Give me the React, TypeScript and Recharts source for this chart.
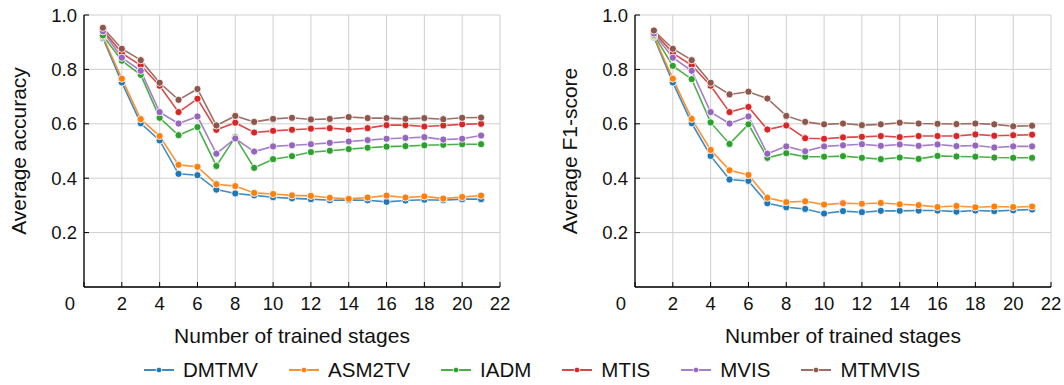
import React from 'react';
import { LineChart, Line, XAxis, YAxis, CartesianGrid } from 'recharts';

// Training stages on the x axis
const STAGES = [1, 2, 3, 4, 5, 6, 7, 8, 9, 10, 11, 12, 13, 14, 15, 16, 17, 18, 19, 20, 21];

const X_TICKS = [0, 2, 4, 6, 8, 10, 12, 14, 16, 18, 20, 22];
const Y_TICKS = [0.2, 0.4, 0.6, 0.8, 1.0];

const SERIES = ['DMTMV', 'ASM2TV', 'IADM', 'MTIS', 'MVIS', 'MTMVIS'];
const COLORS = ['#1f77b4', '#ff7f0e', '#2ca02c', '#d62728', '#9467bd', '#8c564b'];

// Average accuracy
const ACC_DMTMV = [0.915, 0.752, 0.602, 0.539, 0.416, 0.411, 0.358, 0.344, 0.337, 0.33, 0.326, 0.323, 0.319, 0.32, 0.319, 0.313, 0.318, 0.321, 0.319, 0.323, 0.323];
const ACC_ASM2TV = [0.92, 0.766, 0.617, 0.555, 0.449, 0.442, 0.378, 0.371, 0.346, 0.342, 0.337, 0.335, 0.328, 0.324, 0.329, 0.336, 0.329, 0.333, 0.325, 0.331, 0.336];
const ACC_IADM = [0.925, 0.832, 0.78, 0.622, 0.558, 0.588, 0.445, 0.551, 0.438, 0.47, 0.481, 0.496, 0.501, 0.507, 0.512, 0.516, 0.518, 0.521, 0.523, 0.525, 0.525];
const ACC_MTIS = [0.945, 0.86, 0.815, 0.74, 0.643, 0.692, 0.578, 0.604, 0.568, 0.574, 0.578, 0.582, 0.584, 0.579, 0.584, 0.595, 0.595, 0.59, 0.594, 0.598, 0.6];
const ACC_MVIS = [0.94, 0.843, 0.795, 0.643, 0.601, 0.627, 0.49, 0.546, 0.498, 0.517, 0.521, 0.525, 0.53, 0.535, 0.54, 0.545, 0.548, 0.551, 0.542, 0.545, 0.557];
const ACC_MTMVIS = [0.953, 0.876, 0.834, 0.751, 0.688, 0.728, 0.594, 0.629, 0.607, 0.618, 0.622, 0.616, 0.618, 0.625, 0.621, 0.621, 0.618, 0.621, 0.617, 0.622, 0.623];

// Average F1-score
const F1_DMTMV = [0.918, 0.752, 0.602, 0.482, 0.395, 0.39, 0.308, 0.293, 0.287, 0.27, 0.279, 0.275, 0.28, 0.28, 0.281, 0.281, 0.277, 0.281, 0.279, 0.282, 0.285];
const F1_ASM2TV = [0.922, 0.766, 0.618, 0.504, 0.429, 0.412, 0.328, 0.312, 0.315, 0.303, 0.308, 0.306, 0.309, 0.304, 0.301, 0.294, 0.298, 0.293, 0.296, 0.294, 0.296];
const F1_IADM = [0.927, 0.813, 0.764, 0.605, 0.526, 0.598, 0.475, 0.492, 0.479, 0.479, 0.481, 0.475, 0.47, 0.476, 0.471, 0.482, 0.48, 0.479, 0.476, 0.475, 0.475];
const F1_MTIS = [0.938, 0.86, 0.815, 0.74, 0.643, 0.662, 0.579, 0.594, 0.547, 0.545, 0.55, 0.552, 0.555, 0.551, 0.555, 0.555, 0.555, 0.561, 0.556, 0.558, 0.56];
const F1_MVIS = [0.932, 0.843, 0.795, 0.643, 0.601, 0.627, 0.49, 0.517, 0.499, 0.517, 0.521, 0.525, 0.519, 0.524, 0.519, 0.524, 0.518, 0.52, 0.513, 0.517, 0.517];
const F1_MTMVIS = [0.943, 0.876, 0.834, 0.751, 0.708, 0.718, 0.693, 0.629, 0.607, 0.598, 0.601, 0.595, 0.598, 0.604, 0.601, 0.6, 0.599, 0.601, 0.598, 0.591, 0.593];

const ACC_VALUES = [ACC_DMTMV, ACC_ASM2TV, ACC_IADM, ACC_MTIS, ACC_MVIS, ACC_MTMVIS];
const F1_VALUES = [F1_DMTMV, F1_ASM2TV, F1_IADM, F1_MTIS, F1_MVIS, F1_MTMVIS];

const FONT = '"Liberation Sans", Arial, sans-serif';

function buildRows(values: number[][]) {
  return STAGES.map((stage, i) => {
    const row: Record<string, number> = { stage };
    SERIES.forEach((name, s) => {
      row[name] = values[s][i];
    });
    return row;
  });
}

// tick marks point into the plot, like the matplotlib original
const XTick = (props: any) => {
  const { x, y, payload } = props;
  const shift = payload.value === 0 ? -14 : 0;
  return (
    <g>
      <line x1={x} y1={y} x2={x} y2={y - 5} stroke="#000" strokeWidth={1} />
      <text x={x + shift} y={y + 10} dy="0.71em" textAnchor="middle" fontSize={18.5} fontFamily={FONT} fill="#111">
        {payload.value}
      </text>
    </g>
  );
};

const YTick = (props: any) => {
  const { x, y, payload } = props;
  return (
    <g>
      <line x1={x} y1={y} x2={x + 5} y2={y} stroke="#000" strokeWidth={1} />
      <text x={x - 7} y={y} dy="0.355em" textAnchor="end" fontSize={18.5} fontFamily={FONT} fill="#111">
        {Number(payload.value).toFixed(1)}
      </text>
    </g>
  );
};

interface PanelProps {
  values: number[][];
  yLabel: string;
  left: number;
  width: number;
  marginRight: number;
}

function Panel({ values, yLabel, left, width, marginRight }: PanelProps) {
  const rows = buildRows(values);
  return (
    <div style={{ position: 'absolute', left, top: 0 }}>
      <LineChart width={width} height={385} data={rows} margin={{ top: 15, right: marginRight, left: 0, bottom: 65 }}>
        <CartesianGrid stroke="#cfcfcf" strokeWidth={1} />
        <XAxis
          dataKey="stage"
          type="number"
          domain={[0, 22]}
          ticks={X_TICKS}
          interval={0}
          height={33}
          tickSize={0}
          tickMargin={0}
          tick={XTick}
          axisLine={{ stroke: '#000', strokeWidth: 1.3 }}
          label={{
            content: (p: any) => {
              const vb = p.viewBox;
              return (
                <text x={vb.x + vb.width / 2} y={vb.y + 56} textAnchor="middle" fontSize={21} fontFamily={FONT} fill="#111">
                  Number of trained stages
                </text>
              );
            },
          }}
        />
        <XAxis xAxisId="top" orientation="top" type="number" domain={[0, 22]} height={0} tick={false} tickLine={false} axisLine={{ stroke: '#000', strokeWidth: 1.3 }} />
        <YAxis
          type="number"
          domain={[0, 1]}
          ticks={Y_TICKS}
          interval={0}
          width={84}
          tickSize={0}
          tickMargin={0}
          tick={YTick}
          axisLine={{ stroke: '#000', strokeWidth: 1.3 }}
          label={{
            content: (p: any) => {
              const vb = p.viewBox;
              const cx = vb.x + 18;
              const cy = vb.y + vb.height / 2;
              return (
                <text x={cx} y={cy} transform={`rotate(-90 ${cx} ${cy})`} textAnchor="middle" dominantBaseline="central" fontSize={21} fontFamily={FONT} fill="#111">
                  {yLabel}
                </text>
              );
            },
          }}
        />
        <YAxis yAxisId="right" orientation="right" type="number" domain={[0, 1]} width={0} tick={false} tickLine={false} axisLine={{ stroke: '#000', strokeWidth: 1.3 }} />
        {SERIES.map((name, s) => (
          <Line
            key={name}
            type="linear"
            dataKey={name}
            stroke={COLORS[s]}
            strokeOpacity={0.85}
            strokeWidth={1.6}
            dot={{ r: 3.6, fill: COLORS[s], stroke: '#fff', strokeWidth: 1 }}
            activeDot={false}
            isAnimationActive={false}
          />
        ))}
      </LineChart>
    </div>
  );
}

function LegendRow() {
  return (
    <div
      style={{
        position: 'absolute',
        left: 0,
        top: 358,
        width: 1064,
        height: 24,
        display: 'flex',
        justifyContent: 'center',
        alignItems: 'center',
        fontFamily: FONT,
        fontSize: 20.5,
        color: '#111',
      }}
    >
      {SERIES.map((name, s) => (
        <div key={name} style={{ display: 'flex', alignItems: 'center', marginLeft: s === 0 ? 0 : 31 }}>
          <svg width={30} height={10} style={{ marginRight: 9 }}>
            <line x1={0} y1={5} x2={30} y2={5} stroke={COLORS[s]} strokeOpacity={0.85} strokeWidth={2} />
            <circle cx={15} cy={5} r={2.8} fill={COLORS[s]} stroke="#fff" strokeWidth={0.8} />
          </svg>
          <span>{name}</span>
        </div>
      ))}
    </div>
  );
}

export default function App() {
  return (
    <div style={{ position: 'absolute', left: 0, top: 0, width: 1064, height: 385, background: '#fff' }}>
      <Panel values={ACC_VALUES} yLabel="Average accuracy" left={0} width={520} marginRight={20} />
      <Panel values={F1_VALUES} yLabel="Average F1-score" left={551} width={513} marginRight={13} />
      <LegendRow />
    </div>
  );
}
